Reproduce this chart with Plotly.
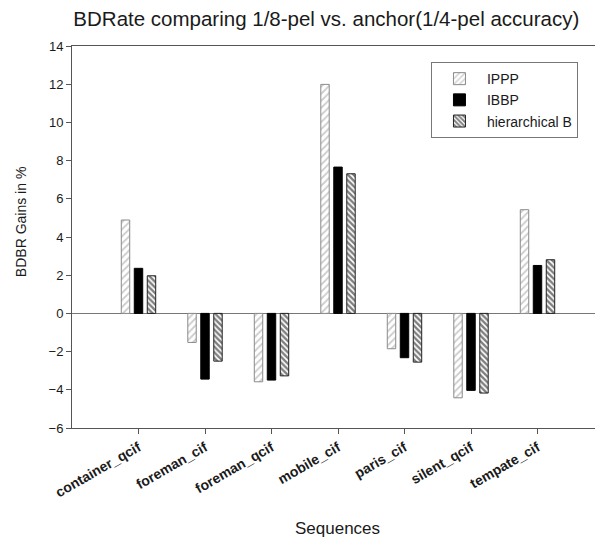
import plotly.graph_objects as go

categories = ["container_qcif", "foreman_cif", "foreman_qcif", "mobile_cif",
              "paris_cif", "silent_qcif", "tempate_cif"]
ippp = [4.89, -1.52, -3.58, 11.99, -1.85, -4.42, 5.43]
ibbp = [2.36, -3.44, -3.49, 7.66, -2.32, -4.03, 2.51]
hier_b = [1.97, -2.50, -3.27, 7.31, -2.55, -4.17, 2.81]
y_ticks = [-6, -4, -2, 0, 2, 4, 6, 8, 10, 12, 14]

FONT = "Liberation Sans, Arial, sans-serif"
TXT = "#1a1a1a"

fig = go.Figure()
fig.add_trace(go.Bar(
    name="IPPP", x=categories, y=ippp,
    marker=dict(color="white", line=dict(color="#8a8a8a", width=1),
                pattern=dict(shape="/", fgcolor="#9a9a9a", bgcolor="white", size=5, solidity=0.35)),
))
fig.add_trace(go.Bar(
    name="IBBP", x=categories, y=ibbp,
    marker=dict(color="black", line=dict(color="black", width=1)),
))
fig.add_trace(go.Bar(
    name="hierarchical B", x=categories, y=hier_b,
    marker=dict(color="white", line=dict(color="#222", width=1),
                pattern=dict(shape="\\", fgcolor="black", bgcolor="white", size=4, solidity=0.6)),
))

fig.update_layout(
    width=595, height=535,
    margin=dict(l=64, r=0, t=38, b=107),
    plot_bgcolor="white", paper_bgcolor="white",
    font=dict(family=FONT, color=TXT, size=13),
    barmode="group", bargap=0.414, bargroupgap=0.35,
    title=dict(text="BDRate comparing 1/8-pel vs. anchor(1/4-pel accuracy)",
               x=0.535, xanchor="center", y=0.979, yanchor="middle",
               font=dict(family=FONT, size=20.5, color=TXT)),
    showlegend=True,
    legend=dict(x=0.676, y=0.958, xanchor="left", yanchor="top",
                bordercolor="#777", borderwidth=1, bgcolor="white",
                font=dict(family=FONT, size=14, color=TXT),
                tracegroupgap=0, itemwidth=45),
    annotations=[
        dict(text="BDBR Gains in %", xref="paper", yref="paper",
             x=-0.096, y=0.539, xanchor="center", yanchor="middle",
             textangle=-90, showarrow=False,
             font=dict(family=FONT, size=14, color=TXT)),
        dict(text="Sequences", xref="paper", yref="paper",
             x=0.5, y=-0.262, xanchor="center", yanchor="middle",
             showarrow=False, font=dict(family=FONT, size=17, color=TXT)),
    ],
)
fig.update_layout(margin=dict(l=64, r=0, t=38, b=115))
fig.update_xaxes(
    type="category", range=[-1, 6.985], automargin=False,
    showline=True, linecolor="#555", linewidth=1, mirror=True,
    ticks="outside", ticklen=5, tickcolor="#555",
    tickangle=-30, tickfont=dict(family=FONT, size=14, color=TXT, weight="bold"),
    showgrid=False,
)
fig.update_yaxes(
    range=[-6, 14], tickvals=y_ticks, automargin=False,
    showline=True, linecolor="#555", linewidth=1,
    ticks="outside", ticklen=5, tickcolor="#555",
    showgrid=False, zeroline=True, zerolinecolor="#777", zerolinewidth=1,
    tickfont=dict(family=FONT, size=13, color=TXT),
)

fig.write_html("out.html")
